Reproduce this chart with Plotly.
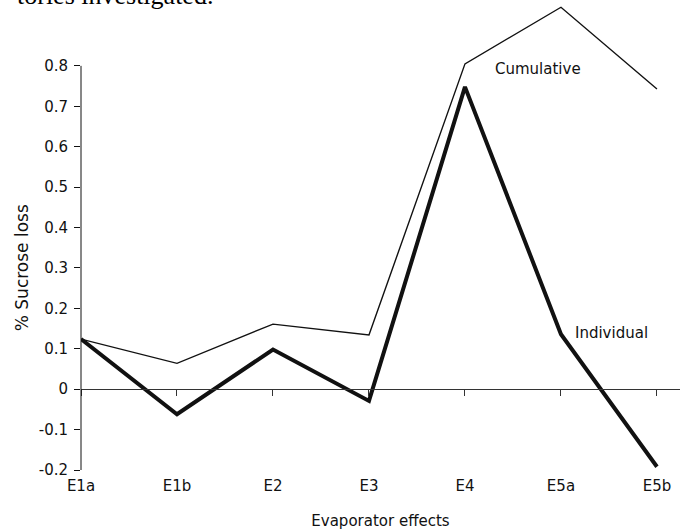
import plotly.graph_objects as go

# Evaporator effects along the x axis
effects = ["E1a", "E1b", "E2", "E3", "E4", "E5a", "E5b"]

# % sucrose loss per effect and accumulated through the station
individual = [0.124, -0.062, 0.098, -0.029, 0.748, 0.136, -0.192]
cumulative = [0.124, 0.064, 0.161, 0.134, 0.805, 0.945, 0.743]

# Y-axis ticks and their printed labels
y_ticks = [0.8, 0.7, 0.6, 0.5, 0.4, 0.3, 0.2, 0.1, 0.0, -0.1, -0.2]
y_tick_text = ["0.8", "0.7", "0.6", "0.5", "0.4", "0.3", "0.2", "0.1", "0", "-0.1", "-0.2"]

y_range = [-0.2, 0.963]
x_range = [0, 6.24]
sans = "DejaVu Sans, Verdana, sans-serif"

fig = go.Figure()

fig.add_trace(go.Scatter(
    x=effects, y=cumulative, mode="lines",
    line=dict(color="#111111", width=1.4),
    hoverinfo="skip", showlegend=False,
))
fig.add_trace(go.Scatter(
    x=effects, y=individual, mode="lines",
    line=dict(color="#111111", width=4),
    hoverinfo="skip", showlegend=False,
))
# empty trace so the zero-level axis is drawn
fig.add_trace(go.Scatter(x=effects, y=[None] * len(effects), xaxis="x2",
                         mode="lines", hoverinfo="skip", showlegend=False))

zero_pos = (0 - y_range[0]) / (y_range[1] - y_range[0])

fig.update_layout(
    width=686, height=532,
    margin=dict(l=81, r=6, t=0, b=62),
    paper_bgcolor="white", plot_bgcolor="white",
    font=dict(family=sans, size=15, color="#111111"),
    xaxis=dict(
        type="category", range=x_range, categoryorder="array", categoryarray=effects,
        showgrid=False, zeroline=False, showline=False, ticks="",
        tickfont=dict(size=15), ticklabelstandoff=5,
        title=dict(text="Evaporator effects", font=dict(size=15), standoff=21),
    ),
    xaxis2=dict(
        type="category", overlaying="x", matches="x", anchor="free",
        position=zero_pos, range=x_range,
        categoryorder="array", categoryarray=effects,
        showgrid=False, zeroline=False, showline=True,
        linecolor="#333333", linewidth=1,
        ticks="outside", ticklen=6, tickcolor="#333333", tickwidth=1,
        showticklabels=False,
    ),
    yaxis=dict(
        range=y_range, tickvals=y_ticks, ticktext=y_tick_text,
        showgrid=False, zeroline=False, showline=False,
        ticks="outside", ticklen=6, tickcolor="#111111", tickwidth=1,
        tickfont=dict(size=15), ticklabelstandoff=3,
    ),
    shapes=[dict(
        type="line", xref="paper", yref="y",
        x0=0, x1=0, y0=min(y_ticks), y1=max(y_ticks),
        line=dict(color="#111111", width=1),
    )],
    annotations=[
        dict(text="% Sucrose loss", xref="paper", yref="y",
             x=-0.098, y=sum(y_ticks) / len(y_ticks),
             textangle=-90, showarrow=False, font=dict(size=17),
             xanchor="center", yanchor="middle"),
        dict(text="Cumulative", xref="x", yref="y", x=4.29, y=0.792,
             showarrow=False, xanchor="left", yanchor="middle", font=dict(size=15)),
        dict(text="Individual", xref="x", yref="y", x=5.13, y=0.139,
             showarrow=False, xanchor="left", yanchor="middle", font=dict(size=15)),
        dict(text="tories investigated.", xref="paper", yref="paper",
             x=-0.11, y=0.9745, xanchor="left", yanchor="bottom", showarrow=False,
             font=dict(family="Liberation Serif, Times New Roman, serif", size=26,
                       color="#000000")),
    ],
)

fig.write_html("out.html")
